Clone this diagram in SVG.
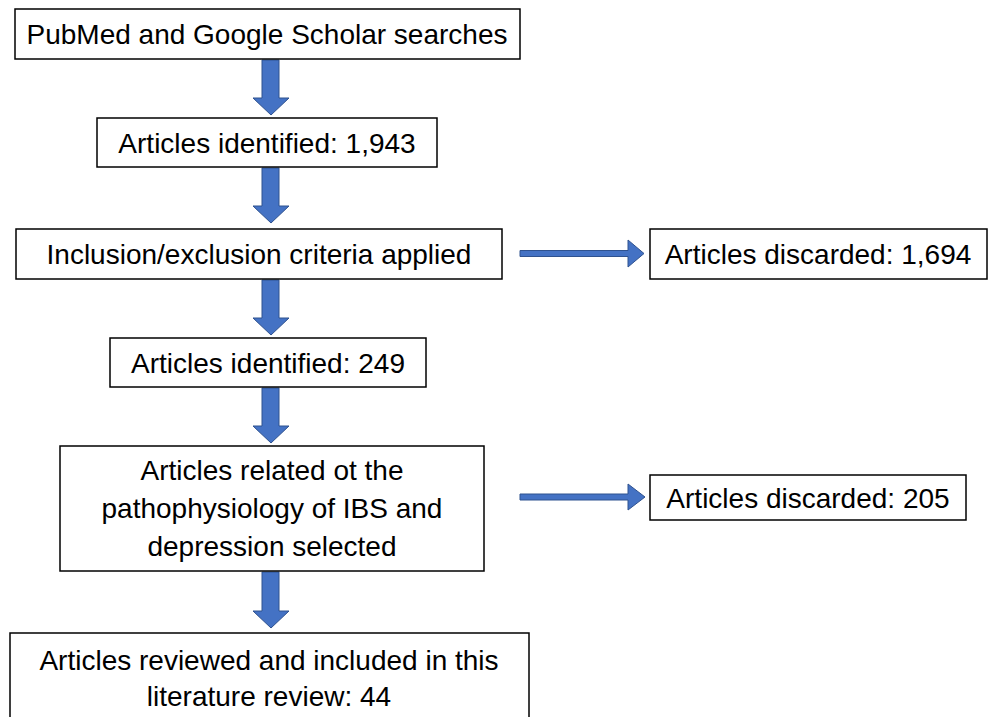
<svg xmlns="http://www.w3.org/2000/svg" width="992" height="717" viewBox="0 0 992 717">
<style>
.box{fill:#fff;stroke:#000;stroke-width:1.5}
.t{font-family:"Liberation Sans",Arial,sans-serif;font-size:28px;fill:#000;text-anchor:middle}
.arr{fill:#4472C4;stroke:#2F528F;stroke-width:1}
</style>
<rect width="992" height="717" fill="#fff"/>
<g id="connectors">
<path class="arr" d="M262,60 H279 V98 H289 L271,115 L253,98 H262 Z"/>
<path class="arr" d="M262,168 H279 V206 H289 L271,223 L253,206 H262 Z"/>
<path class="arr" d="M262,280 H279 V318 H289 L271,335 L253,318 H262 Z"/>
<path class="arr" d="M262,388 H279 V426 H289 L271,443 L253,426 H262 Z"/>
<path class="arr" d="M262,572 H279 V611 H289 L271,628 L253,611 H262 Z"/>
<path class="arr" d="M520,250.5 H628 V240 L644,253.5 L628,267 V256.5 H520 Z"/>
<path class="arr" d="M520,494 H628 V484 L645,497 L628,510 V500 H520 Z"/>
</g>
<g id="n1"><rect class="box" x="15" y="9" width="505" height="50"/><text class="t" x="267" y="44">PubMed and Google Scholar searches</text></g>
<g id="n2"><rect class="box" x="97" y="118" width="340" height="49"/><text class="t" x="267" y="153">Articles identified: 1,943</text></g>
<g id="n3"><rect class="box" x="16" y="229" width="486" height="50"/><text class="t" x="259" y="264">Inclusion/exclusion criteria applied</text></g>
<g id="n4"><rect class="box" x="650" y="229" width="337" height="50"/><text class="t" x="818" y="264">Articles discarded: 1,694</text></g>
<g id="n5"><rect class="box" x="110" y="338" width="316" height="49"/><text class="t" x="268" y="373">Articles identified: 249</text></g>
<g id="n6"><rect class="box" x="60" y="446" width="424" height="125"/><text class="t" x="272"><tspan x="272" y="480">Articles related ot the</tspan><tspan x="272" y="518">pathophysiology of IBS and</tspan><tspan x="272" y="556">depression selected</tspan></text></g>
<g id="n7"><rect class="box" x="650" y="475" width="316" height="45"/><text class="t" x="808" y="508">Articles discarded: 205</text></g>
<g id="n8"><rect class="box" x="10" y="633" width="519" height="90"/><text class="t"><tspan x="269" y="670">Articles reviewed and included in this</tspan><tspan x="269" y="706">literature review: 44</tspan></text></g>
</svg>
